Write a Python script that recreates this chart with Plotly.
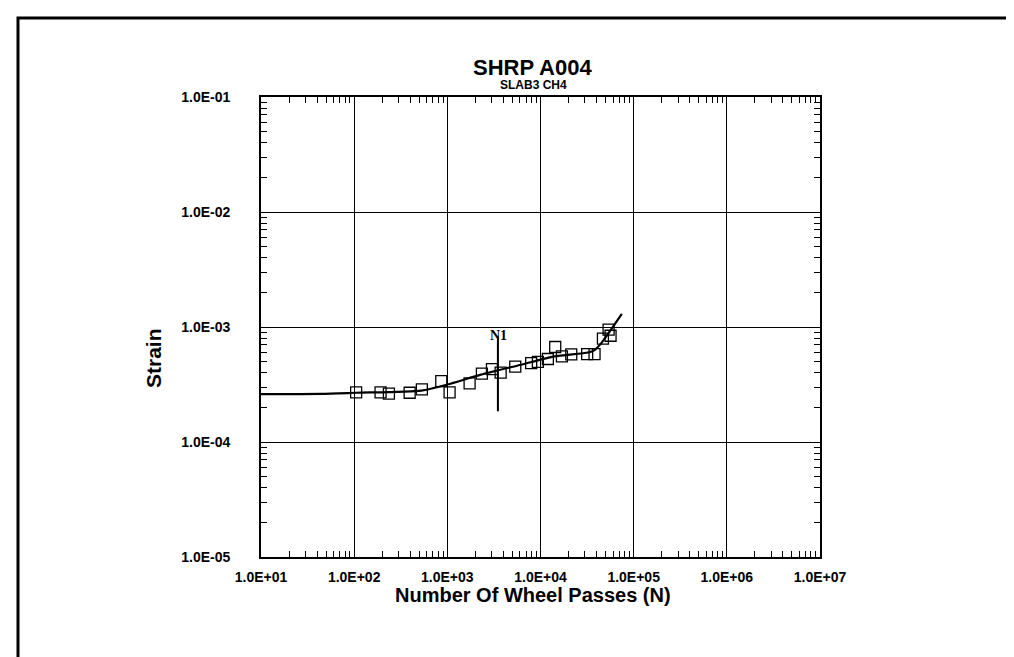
import plotly.graph_objs as go

# measured points (wheel passes, strain)
passes = [105, 192, 236, 394, 533, 861, 1057, 1734, 2350, 3013, 3733, 5358, 7943,
          9376, 11995, 14388, 16982, 21380, 31696, 38019, 46774, 53827, 56494]
strain = [2.70e-4, 2.70e-4, 2.63e-4, 2.68e-4, 2.87e-4, 3.39e-4, 2.70e-4, 3.24e-4,
          3.93e-4, 4.31e-4, 4.01e-4, 4.52e-4, 4.86e-4, 4.97e-4, 5.27e-4, 6.70e-4,
          5.56e-4, 5.78e-4, 5.82e-4, 5.82e-4, 7.93e-4, 9.48e-4, 8.39e-4]

# fitted curve
fit_passes = [10, 44, 105, 525, 1000, 2291, 6166, 14125, 32360, 38020, 44670, 52480, 74650]
fit_strain = [2.61e-4, 2.62e-4, 2.68e-4, 2.80e-4, 3.16e-4, 3.85e-4, 4.70e-4, 5.56e-4,
              6.0e-4, 6.3e-4, 7.2e-4, 8.6e-4, 1.30e-3]

# N1 marker
n1_passes = [3490, 3490]
n1_strain = [1.85e-4, 8.3e-4]

x_ticks = [1e1, 1e2, 1e3, 1e4, 1e5, 1e6, 1e7]
x_labels = ["1.0E+01", "1.0E+02", "1.0E+03", "1.0E+04", "1.0E+05", "1.0E+06", "1.0E+07"]
y_ticks = [1e-5, 1e-4, 1e-3, 1e-2, 1e-1]
y_labels = ["1.0E-05", "1.0E-04", "1.0E-03", "1.0E-02", "1.0E-01"]

font = "Arial, Liberation Sans, sans-serif"

pts = go.Scatter(x=passes, y=strain, mode="markers",
                 marker=dict(symbol="square-open", size=11, color="black",
                             line=dict(width=1.3, color="black")))
fit = go.Scatter(x=fit_passes, y=fit_strain, mode="lines",
                 line=dict(color="black", width=2.2, shape="spline", smoothing=0.6))
n1 = go.Scatter(x=n1_passes, y=n1_strain, mode="lines", line=dict(color="black", width=2))

axis = dict(type="log", showline=True, linecolor="black", linewidth=1.8, mirror="allticks",
            ticks="inside", ticklen=8, tickcolor="black", tickwidth=1.2,
            showgrid=True, gridcolor="black", gridwidth=1.2, zeroline=False,
            tickfont=dict(family=font, size=14, color="black", weight="bold"),
            minor=dict(ticks="inside", ticklen=6, tickcolor="black", tickwidth=1.1,
                       dtick="D1", showgrid=False))


def label(text, x, y, size, **kw):
    return dict(text=text, x=x, y=y, xref="paper", yref="paper", showarrow=False,
                xanchor="center", yanchor="middle",
                font=dict(family=font, size=size, color="black", weight="bold"), **kw)


layout = go.Layout(
    width=1014, height=657,
    margin=dict(l=253, r=202, t=89, b=108),
    paper_bgcolor="white", plot_bgcolor="white",
    showlegend=False,
    xaxis=dict(axis, range=[1, 7], tickmode="array", tickvals=x_ticks, ticktext=x_labels,
               ticklabelstandoff=6),
    yaxis=dict(axis, range=[-5, -1], tickmode="array", tickvals=y_ticks, ticktext=y_labels,
               ticklabelstandoff=26),
    annotations=[
        label("SHRP A004", 0.4848, 1.065, 22),
        label("SLAB3 CH4", 0.4866, 1.026, 12),
        label("Number Of Wheel Passes (N)", 0.4866, -0.0826, 20),
        label("Strain", -0.1932, 0.4326, 21, textangle=-90),
        dict(text="N1", x=3.55, y=-3.07, xref="x", yref="y", showarrow=False,
             xanchor="center", yanchor="middle",
             font=dict(family="Liberation Serif, Times New Roman, serif", size=14,
                       color="black", weight="bold")),
    ],
    shapes=[
        dict(type="rect", xref="paper", yref="paper", x0=-0.4347, x1=1.347, y0=-0.3, y1=1.1717,
             line=dict(color="black", width=3)),
    ],
)

fig = go.Figure(data=[fit, pts, n1], layout=layout)
fig.write_html("out.html")
